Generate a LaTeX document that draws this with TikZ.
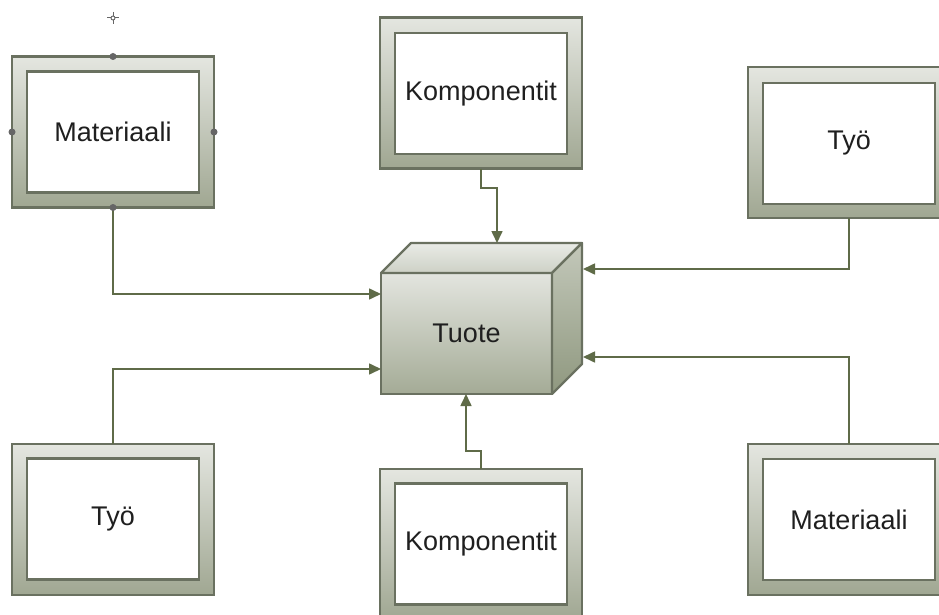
\documentclass[tikz,border=0pt]{standalone}
\usepackage{fontspec}
\setmainfont{Liberation Sans}
\usetikzlibrary{arrows.meta,shadings,calc}

\definecolor{edge}{HTML}{6A7160}
\definecolor{frametop}{HTML}{E4E6E0}
\definecolor{framebot}{HTML}{A0A792}
\definecolor{arrowc}{HTML}{5F6B48}
\definecolor{cubetop}{HTML}{E3E5DF}
\definecolor{cubebot}{HTML}{A4AB96}
\definecolor{lidtop}{HTML}{CDD1C6}
\definecolor{lidbot}{HTML}{E9EBE6}
\definecolor{sidetop}{HTML}{C3C8BA}
\definecolor{sidebot}{HTML}{8F987F}
\definecolor{handle}{HTML}{666666}

\begin{document}
\begin{tikzpicture}[x=1pt,y=-1pt,
  framebox/.style={draw=edge, line width=2.2pt, minimum width=202pt,
    minimum height=151pt, top color=frametop, bottom color=framebot,
    inner sep=0pt, outer sep=0pt},
  panel/.style={draw=edge, line width=2.6pt, fill=white, minimum width=172pt,
    minimum height=121pt, inner sep=0pt,
    font=\fontsize{27}{32}\selectfont, text=black!88},
  conn/.style={draw=arrowc, line width=1.6pt,
    -{Triangle[length=12pt,width=11pt]}},
  grip/.style={fill=handle, draw=none},
]
% canvas
\fill[white] (0,0) rectangle (939,615);
\useasboundingbox (0,0) rectangle (939,615);

% central product box
\node[draw=edge, line width=2.2pt, minimum width=171pt, minimum height=121pt,
  top color=cubetop, bottom color=cubebot, inner sep=0pt, outer sep=0pt,
  font=\fontsize{27}{32}\selectfont, text=black!88] (cube) at (466.5,333.5) {Tuote};
\draw[edge, line width=2.2pt, line join=round, top color=lidbot, bottom color=lidtop]
  (cube.north west) -- ++(30,-30) -- ++(171,0) -- (cube.north east) -- cycle;
\draw[edge, line width=2.2pt, line join=round, top color=sidetop, bottom color=sidebot]
  (cube.north east) -- ++(30,-30) -- ++(0,121) -- (cube.south east) -- cycle;

% arrow end points on the product box
\coordinate (inL1) at (381,294);
\coordinate (inL2) at (381,369);
\coordinate (inT)  at (497,243);
\coordinate (inB)  at (466,394);
\coordinate (inR1) at (583,269);
\coordinate (inR2) at (583,357);

% input frames
\node[framebox] (mat1)  at (113,132)   {};
\node[panel]    (mat1t) at (113,132)   {Materiaali};
\node[framebox] (komp1) at (481,93)    {};
\node[panel]    (komp1t) at (481,93.5) {Komponentit};
\node[framebox] (tyo1)  at (849,142.5) {};
\node[panel]    (tyo1t) at (849,143.5) {Työ};
\node[framebox] (tyo2)  at (113,519.5) {};
\node[panel]    (tyo2t) at (113,519)   {Työ};
\node[framebox] (komp2) at (481,544.5) {};
\node[panel]    (komp2t) at (481,544)  {Komponentit};
\node[framebox] (mat2)  at (849,519.5) {};
\node[panel]    (mat2t) at (849,519.5) {Materiaali};

% connectors
\draw[conn] (mat1.south) |- (inL1);
\draw[conn] (komp1.south) -- ++(0,19.5) -| (inT);
\draw[conn] (tyo1.south) |- (inR1);
\draw[conn] (tyo2.north) |- (inL2);
\draw[conn] (komp2.north) -- ++(0,-18) -| (inB);
\draw[conn] (mat2.north) |- (inR2);

% selection handles on the first frame
\foreach \a in {north,south,east,west}
  \fill[grip] (mat1.\a) circle (3.5pt);
\coordinate (rot) at (113,18);
\draw[handle, line width=1pt] ($(rot)+(-6,0)$) -- ($(rot)+(6,0)$)
  ($(rot)+(0,-6)$) -- ($(rot)+(0,6)$);
\draw[handle, fill=white, line width=0.9pt] (rot) circle (2pt);
\end{tikzpicture}
\end{document}
